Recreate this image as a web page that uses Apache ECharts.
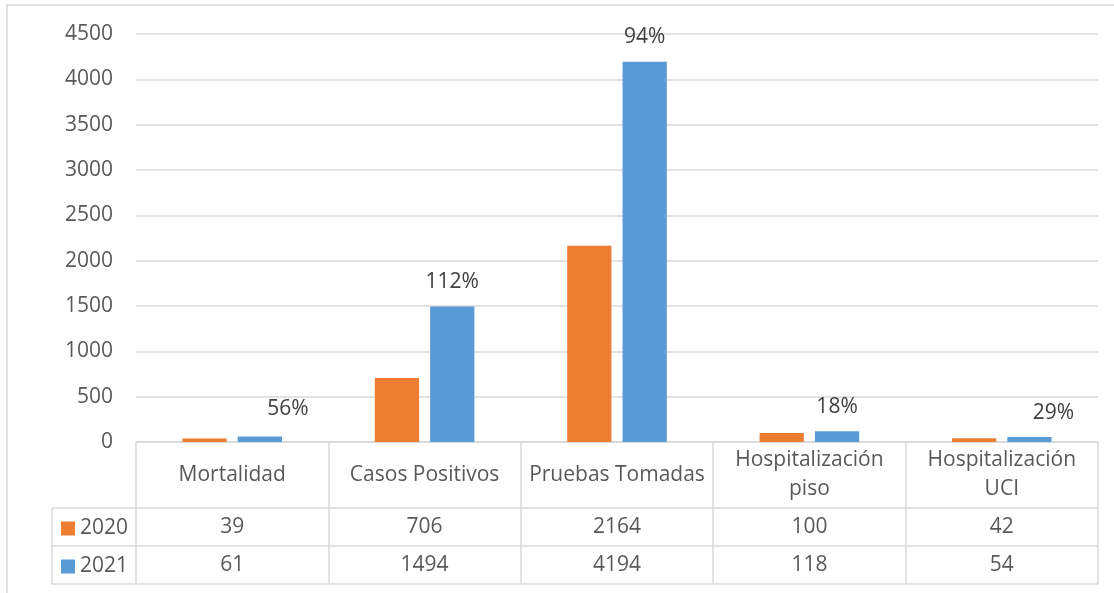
<!DOCTYPE html>
<html>
<head>
<meta charset="utf-8">
<script src="https://cdn.jsdelivr.net/npm/echarts@6/dist/echarts.min.js"></script>
<style>
  html, body { margin: 0; padding: 0; background: #fff; }
  #chart { width: 1114px; height: 593px; }
</style>
</head>
<body>
<div id="chart"></div>
<script>
// Indicators compared year over year
const categories = ['Mortalidad', 'Casos Positivos', 'Pruebas Tomadas', 'Hospitalización\npiso', 'Hospitalización\nUCI'];
const seriesNames = ['2020', '2021'];
const values2020 = [39, 706, 2164, 100, 42];
const values2021 = [61, 1494, 4194, 118, 54];
const yTicks = { min: 0, max: 4500, interval: 500 };

const FONT = '"Open Sans", "Noto Sans", sans-serif';
const FS = 21;
const TEXT = '#595959';
const LINE = '#D9D9D9';
const ORANGE = '#ED7D31';
const BLUE = '#5B9BD5';

// Grid box and data-table geometry (pixels)
const G = { left: 136, right: 16, top: 34, bottom: 151 };
const H = 593, W = 1114;
const axisY = H - G.bottom;            // baseline of the plot
const headerH = 66, rowH = 38;
const tableLeft = 52;
const tableRight = W - G.right;

// Percent change 2020 -> 2021 shown above the 2021 bars
function pctChange(i) {
  return Math.round((values2021[i] / values2020[i] - 1) * 100) + '%';
}
// Hand-placed label nudges for the short bars
const labelNudge = { 0: [28, -3], 4: [24, 0] };

const chart = echarts.init(document.getElementById('chart'), null, { renderer: 'canvas' });

const baseCat = {
  type: 'category',
  data: categories,
  position: 'bottom',
  gridIndex: 0,
  boundaryGap: true
};

// One legend key per data-table row
const legends = seriesNames.map((name, r) => ({
  data: [name],
  left: 61,
  top: axisY + headerH + rowH * r + rowH / 2 - 9,
  padding: 0,
  itemWidth: 14,
  itemHeight: 14,
  icon: 'rect',
  selectedMode: false,
  textStyle: { fontFamily: FONT, fontSize: FS, color: TEXT }
}));

chart.setOption({
  animation: false,
  textStyle: { fontFamily: FONT },
  grid: { left: G.left, right: G.right, top: G.top, bottom: G.bottom, containLabel: false },
  legend: legends,
  xAxis: [
    Object.assign({}, baseCat, {
      axisLine: { show: true, lineStyle: { color: LINE, width: 1.5 } },
      axisTick: { show: true, length: headerH + 2 * rowH, inside: false, lineStyle: { color: LINE, width: 1.5 } },
      axisLabel: {
        interval: 0, margin: headerH / 2, verticalAlign: 'middle', align: 'center',
        fontFamily: FONT, fontSize: FS, color: TEXT, lineHeight: 29
      },
      splitLine: { show: false }
    }),
    Object.assign({}, baseCat, {
      axisLine: { show: false }, axisTick: { show: false }, splitLine: { show: false },
      axisLabel: {
        interval: 0, margin: headerH + rowH / 2, verticalAlign: 'middle',
        fontFamily: FONT, fontSize: FS, color: TEXT,
        formatter: (v, i) => String(values2020[i])
      }
    }),
    Object.assign({}, baseCat, {
      axisLine: { show: false }, axisTick: { show: false }, splitLine: { show: false },
      axisLabel: {
        interval: 0, margin: headerH + rowH * 1.5, verticalAlign: 'middle',
        fontFamily: FONT, fontSize: FS, color: TEXT,
        formatter: (v, i) => String(values2021[i])
      }
    })
  ],
  yAxis: {
    type: 'value',
    min: yTicks.min, max: yTicks.max, interval: yTicks.interval,
    axisLine: { show: false },
    axisTick: { show: false },
    axisLabel: { margin: 23, fontFamily: FONT, fontSize: FS, color: TEXT, formatter: v => String(v) },
    splitLine: { lineStyle: { color: LINE, width: 1.5 } }
  },
  series: [
    {
      name: seriesNames[0],
      type: 'bar',
      xAxisIndex: 0,
      data: values2020,
      barWidth: '23%',
      barGap: '25%',
      itemStyle: { color: ORANGE }
    },
    {
      name: seriesNames[1],
      type: 'bar',
      xAxisIndex: 0,
      data: values2021.map((v, i) => ({
        value: v,
        label: labelNudge[i] ? { offset: labelNudge[i] } : undefined
      })),
      barWidth: '23%',
      barGap: '25%',
      itemStyle: { color: BLUE },
      label: {
        show: true,
        position: 'top',
        distance: 14,
        fontFamily: FONT,
        fontSize: FS,
        color: '#404040',
        formatter: p => pctChange(p.dataIndex)
      }
    }
  ],
  graphic: [
    // outer chart frame
    { type: 'rect', silent: true, z: -1,
      shape: { x: 7, y: 5, width: W + 20, height: H + 20 },
      style: { fill: null, stroke: LINE, lineWidth: 1.5 } },
    // data-table row separators and legend column edge
    { type: 'line', silent: true, shape: { x1: tableLeft, y1: axisY + headerH, x2: tableRight, y2: axisY + headerH }, style: { stroke: LINE, lineWidth: 1.5 } },
    { type: 'line', silent: true, shape: { x1: tableLeft, y1: axisY + headerH + rowH, x2: tableRight, y2: axisY + headerH + rowH }, style: { stroke: LINE, lineWidth: 1.5 } },
    { type: 'line', silent: true, shape: { x1: tableLeft, y1: axisY + headerH + 2 * rowH, x2: tableRight, y2: axisY + headerH + 2 * rowH }, style: { stroke: LINE, lineWidth: 1.5 } },
    { type: 'line', silent: true, shape: { x1: tableLeft, y1: axisY + headerH, x2: tableLeft, y2: axisY + headerH + 2 * rowH }, style: { stroke: LINE, lineWidth: 1.5 } }
  ]
});
</script>
</body>
</html>
